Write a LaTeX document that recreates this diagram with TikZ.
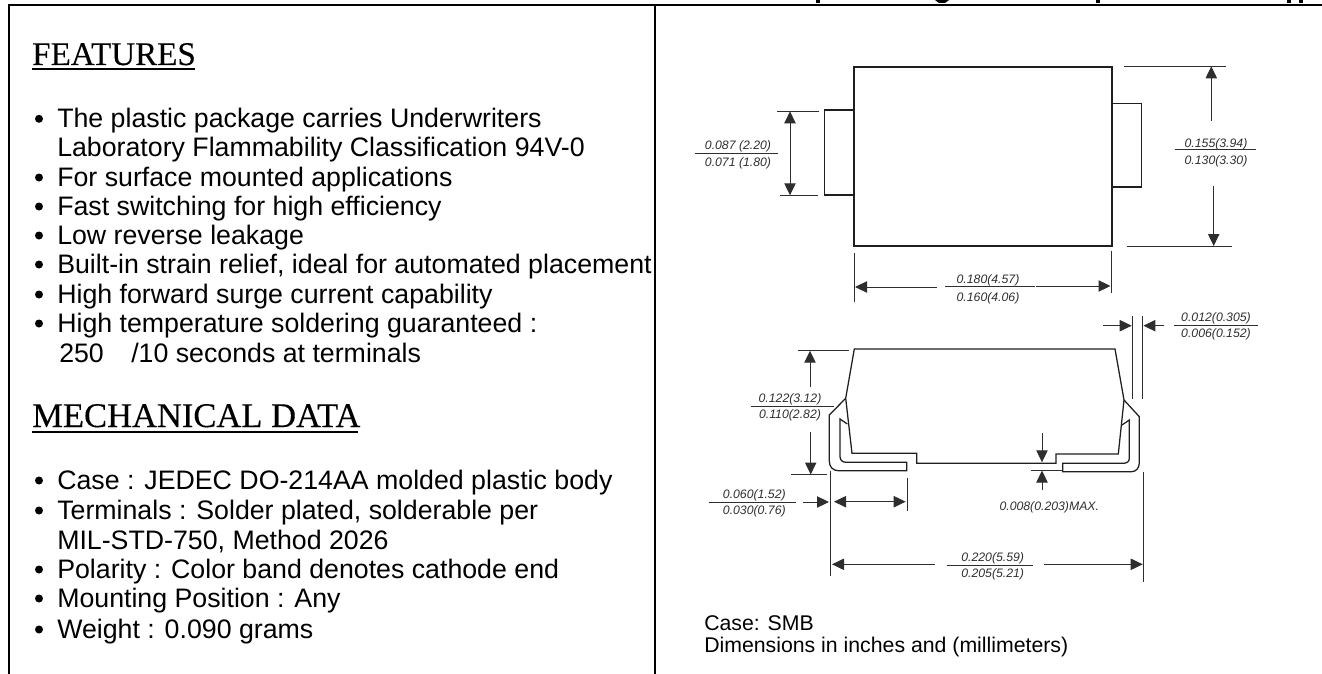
\documentclass[tikz,border=0pt]{standalone}
\usepackage{fontspec}
\setmainfont{Liberation Sans}
\newfontfamily\headfont[FakeBold=0.25]{Liberation Serif}
\usetikzlibrary{arrows.meta}
\definecolor{dimgray}{gray}{0.18}
\tikzset{
  px/.style={x=0.75pt,y=-0.75pt},
  frameline/.style={line width=1.9pt,black},
  outline/.style={line width=0.95pt,black!88,line join=miter},
  dimline/.style={line width=0.75pt,dimgray},
  dimarrow/.style={dimline,-{Triangle[length=9pt,width=8.5pt]}},
  dimboth/.style={dimline,{Triangle[length=9pt,width=8.5pt]}-{Triangle[length=9pt,width=8.5pt]}},
  bodytext/.style={anchor=base west,inner sep=0pt,font=\fontsize{20.05}{22}\selectfont},
  smalltext/.style={anchor=base west,inner sep=0pt,font=\fontsize{15.95}{18}\selectfont},
  headtext/.style={anchor=base west,inner sep=0pt,font=\headfont\fontsize{24.8}{26}\selectfont},
  dimtext/.style={anchor=base,inner sep=0pt,text=dimgray,font=\fontsize{9.2}{10}\selectfont\itshape},
  bullet/.style={circle,fill=black,inner sep=0pt,minimum size=6pt},
}
\begin{document}
\begin{tikzpicture}[px]
\useasboundingbox (0,0) rectangle (1322,674);
% frame
\draw[frameline] (9,674) -- (9,5) -- (1322,5);
\draw[frameline,line width=1.5pt] (655,5) -- (655,674);
% clipped heading remnants
\fill (816,0) rectangle (820,3);
\fill (935,0) -- (949,0) -- (945,3) -- (939,3) -- cycle;
\fill (1096,0) rectangle (1100,3);
\fill (1287,0) rectangle (1291,3);
\fill (1299,0) rectangle (1303,3);
% headings
\node[headtext] (hf) at (32,65) {FEATURES};
\draw[line width=1.5pt] (32,69) -- (195,69);
\node[headtext,font=\headfont\fontsize{25.9}{28}\selectfont] (hm) at (32,427) {MECHANICAL DATA};
\draw[line width=1.5pt] (32,432) -- (358,432);
% feature list
\foreach \yy/\txt [count=\i] in {127.3/The plastic package carries Underwriters,186/For surface mounted applications,215/Fast switching for high efficiency,244/Low reverse leakage,273/{Built-in strain relief, ideal for automated placement},303/High forward surge current capability,332/High temperature soldering guaranteed :,489/Case : JEDEC DO-214AA molded plastic body,519/{Terminals : Solder plated, solderable per},578/Polarity : Color band denotes cathode end,607/Mounting Position : Any,638/Weight : 0.090 grams}{
  \node[bodytext] (t\i) at (57,\yy) {\txt};
  \node[bullet] (b\i) at (39,\yy-8.5) {};
}
\node[bodytext] (l2) at (57,156.7) {Laboratory Flammability Classification 94V-0};
\node[bodytext] (l250) at (59,362) {250};
\node[bodytext] (l10) at (131,362) {/10 seconds at terminals};
\node[bodytext] (lmil) at (57,549) {MIL-STD-750, Method 2026};
\node[smalltext] (c1) at (704,630.7) {Case: SMB};
\node[smalltext] (c2) at (704,652.3) {Dimensions in inches and (millimeters)};
% top view
\draw[outline] (854,67) rectangle (1112,246);
\draw[outline] (854,110) -- (824.3,110) -- (824.3,195) -- (854,195);
\draw[outline] (1112,103.7) -- (1141.7,103.7) -- (1141.7,187) -- (1112,187);
\draw[line width=1.3pt,black!88] (854,110) -- (854,195) (1112,103.7) -- (1112,187);
% left dim
\draw[dimline] (777,111.3) -- (819,111.3) (780,195.3) -- (818,195.3);
\draw[dimboth] (790,111.3) -- (790,195.3);
\draw[dimline] (695,153.7) -- (778,153.7);
\node[dimtext] (d1a) at (738,149.3) {0.087 (2.20)};
\node[dimtext] (d1b) at (738,166.4) {0.071 (1.80)};
% right dim
\draw[dimline] (1124.3,66.3) -- (1226,66.3) (1126.7,246) -- (1232,246);
\draw[dimarrow] (1211.3,120.7) -- (1211.3,66.3);
\draw[dimarrow] (1213.7,186) -- (1213.7,246);
\draw[dimline] (1174.7,150) -- (1255.7,150);
\node[dimtext] (d2a) at (1216,147.3) {0.155(3.94)};
\node[dimtext] (d2b) at (1216,164) {0.130(3.30)};
% width dim
\draw[dimline] (854.3,253) -- (854.3,301.7) (1111.3,250.7) -- (1111.3,293);
\draw[dimarrow] (937,287) -- (855,287);
\draw[dimarrow] (1036,286) -- (1110.5,286);
\draw[dimline] (945,286.7) -- (1035,286.7);
\node[dimtext] (d3a) at (988,283.6) {0.180(4.57)};
\node[dimtext] (d3b) at (988,301) {0.160(4.06)};
% side view body
\draw[outline] (854.3,349) -- (1115,349) -- (1124,400) -- (1118.3,454) -- (1056,454) -- (1056,463.3) -- (916.7,463.3) -- (916.7,453.3) -- (852,453.3) -- (845.7,398.3) -- cycle;
% leads
\draw[outline] (845.7,398.3) -- (829.3,415) -- (829.3,461) .. controls (829.3,467) and (833,470.7) .. (838.3,470.7) -- (906.7,470.7) -- (906.7,462.3) -- (846,462.3) .. controls (842.5,462.3) and (840,460) .. (840,456.7) -- (840,419) -- (847.3,424);
\draw[outline] (1124,400) -- (1139.3,416.7) -- (1139.3,463) .. controls (1139.3,468) and (1136,471.7) .. (1131.7,471.7) -- (1062.7,471.7) -- (1062.7,463.3) -- (1123.3,463.3) .. controls (1127,463.3) and (1129.3,461.5) .. (1129.3,458.3) -- (1129.3,420) -- (1122,425);
% height dim
\draw[dimline] (798.3,350.7) -- (849,350.7) (791,474.7) -- (826.7,474.7);
\draw[dimarrow] (810,386.7) -- (810,350.7);
\draw[dimarrow] (810.7,432.3) -- (810.7,474.5);
\draw[dimline] (750.7,406) -- (834,406);
\node[dimtext] (d4a) at (790,402.3) {0.122(3.12)};
\node[dimtext] (d4b) at (790,418.3) {0.110(2.82)};
% lead length dim
\draw[dimline] (708.7,502.3) -- (796,502.3);
\node[dimtext] (d5a) at (754.3,498.3) {0.060(1.52)};
\node[dimtext] (d5b) at (754.3,514.3) {0.030(0.76)};
\draw[dimarrow] (803.3,502) -- (829,502);
\draw[dimline] (830.7,470.7) -- (830.7,576) (907.3,478.3) -- (907.3,511);
\draw[dimboth] (834,501.7) -- (905.7,501.7);
% overall dim
\draw[dimarrow] (935,564.3) -- (832,564.3);
\draw[dimarrow] (1044.3,564.3) -- (1142.7,564.3);
\draw[dimline] (1143.3,472.3) -- (1143.3,581.7);
\draw[dimline] (946.7,565) -- (1032.7,565);
\node[dimtext] (d6a) at (992.7,561) {0.220(5.59)};
\node[dimtext] (d6b) at (992.7,577) {0.205(5.21)};
% lead thickness dim
\draw[dimarrow] (1103.3,325.7) -- (1131.7,325.7);
\draw[dimarrow] (1164.3,325.7) -- (1143.4,325.7);
\draw[dimline] (1132.7,315.7) -- (1132.7,399) (1142.3,315.7) -- (1142.3,399);
\draw[dimline] (1174,325.3) -- (1258,325.3);
\node[dimtext] (d7a) at (1216,321.7) {0.012(0.305)};
\node[dimtext] (d7b) at (1216,337.7) {0.006(0.152)};
% standoff dim
\draw[dimarrow] (1042,433.3) -- (1042,462.3);
\draw[dimarrow] (1042,490) -- (1042,470.5);
\draw[dimline] (1031,470) -- (1062.7,470);
\node[dimtext] (d8) at (1049.3,510) {0.008(0.203)MAX.};
\end{tikzpicture}
\end{document}
